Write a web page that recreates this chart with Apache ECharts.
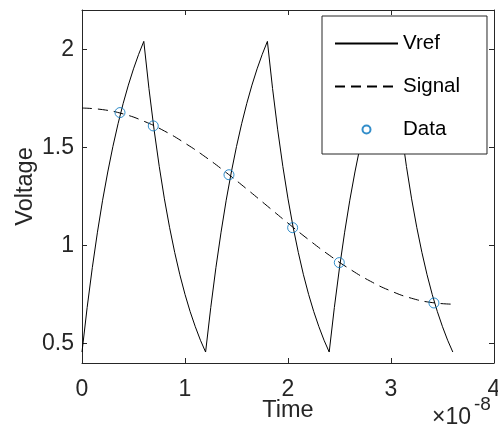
<!DOCTYPE html>
<html>
<head>
<meta charset="utf-8">
<script src="https://cdn.jsdelivr.net/npm/echarts@6/dist/echarts.min.js"></script>
<style>html,body{margin:0;padding:0;background:#fff}#c{width:498px;height:432px}</style>
</head>
<body>
<div id="c"></div>
<script>
// Vref (sawtooth RC charge/discharge)
var vrefX = [0,0.05,0.1,0.15,0.2,0.25,0.3,0.35,0.4,0.45,0.5,0.55,0.6,0.65,0.7,0.75,0.8,0.85,0.9,0.95,1.0,1.05,1.1,1.15,1.2,
  1.25,1.3,1.35,1.4,1.45,1.5,1.55,1.6,1.65,1.7,1.75,1.8,1.85,1.9,1.95,2.0,2.05,2.1,2.15,2.2,2.25,2.3,2.35,2.4,
  2.45,2.5,2.55,2.6,2.65,2.7,2.75,2.8,2.85,2.9,2.95,3.0,3.05,3.1,3.15,3.2,3.25,3.3,3.35,3.4,3.45,3.5,3.55,3.6];
var vrefY = [0.456,0.683,0.886,1.067,1.230,1.374,1.504,1.620,1.724,1.817,1.900,1.974,2.040,1.800,1.589,1.402,1.237,1.092,0.964,0.850,0.750,0.662,0.585,0.516,0.456,
  0.683,0.886,1.067,1.230,1.374,1.504,1.620,1.724,1.817,1.900,1.974,2.040,1.800,1.589,1.402,1.237,1.092,0.964,0.850,0.750,0.662,0.585,0.516,0.456,
  0.683,0.886,1.067,1.230,1.374,1.504,1.620,1.724,1.817,1.900,1.974,2.040,1.800,1.589,1.402,1.237,1.092,0.964,0.850,0.750,0.662,0.585,0.516,0.456];
// Signal (dashed)
var signalX = [0,0.2,0.4,0.6,0.8,1.0,1.2,1.4,1.6,1.8,2.0,2.2,2.4,2.6,2.8,3.0,3.2,3.4,3.6];
var signalY = [1.700,1.692,1.670,1.633,1.583,1.521,1.450,1.371,1.287,1.200,1.113,1.029,0.950,0.879,0.817,0.767,0.730,0.708,0.700];
// Data markers
var dataX = [0.369,0.692,1.427,2.045,2.498,3.417];
var dataY = [1.677,1.609,1.360,1.090,0.912,0.706];
// Axis ticks
var xTicks = [0,1,2,3,4];
var yTicks = [0.5,1,1.5,2];

function pairs(xs, ys){ return xs.map(function(x,i){ return [x, ys[i]]; }); }

var FONT = 'Liberation Sans, Arial, sans-serif';
var AX = '#262626';
var TICKFS = 23, LABELFS = 23.5, LEGFS = 20.5;
var chart = echarts.init(document.getElementById('c'), null, {renderer:'canvas'});
var axisCommon = {
  type:'value', min:0, max:4, interval:1,
  axisLine:{show:true, onZero:false, lineStyle:{color:AX, width:1}},
  axisTick:{show:true, inside:true, length:5, lineStyle:{color:AX, width:1}},
  splitLine:{show:false}
};
var noSym = {color:'rgba(0,0,0,0)', borderWidth:0, opacity:0};
chart.setOption({
  animation:false,
  backgroundColor:'#fff',
  grid:{left:82, right:4, top:10, bottom:69, containLabel:false, outerBoundsMode:'none'},
  xAxis:[
    Object.assign({}, axisCommon, {
      position:'bottom',
      axisLabel:{show:true, fontSize:TICKFS, color:AX, fontFamily:FONT, margin:15},
      name:'Time', nameLocation:'middle', nameGap:36, nameMoveOverlap:false,
      nameTextStyle:{fontSize:LABELFS, color:AX, fontFamily:FONT}
    }),
    Object.assign({}, axisCommon, {position:'top', axisLabel:{show:false}})
  ],
  yAxis:[
    {type:'value', min:0.4, max:2.2, position:'left',
     axisLine:{show:true, onZero:false, lineStyle:{color:AX, width:1}},
     axisTick:{show:true, inside:true, length:5, customValues:yTicks, lineStyle:{color:AX, width:1}},
     axisLabel:{show:true, customValues:yTicks, fontSize:TICKFS, color:AX, fontFamily:FONT, margin:8},
     splitLine:{show:false},
     name:'Voltage', nameLocation:'middle', nameGap:44, nameMoveOverlap:false,
     nameTextStyle:{fontSize:LABELFS, color:AX, fontFamily:FONT}},
    {type:'value', min:0.4, max:2.2, position:'right',
     axisLine:{show:true, onZero:false, lineStyle:{color:AX, width:1}},
     axisTick:{show:true, inside:true, length:5, customValues:yTicks, lineStyle:{color:AX, width:1}},
     axisLabel:{show:false}, splitLine:{show:false}}
  ],
  legend:{
    data:[{name:'Vref', itemStyle:noSym},{name:'Signal', itemStyle:noSym},{name:'Data'}],
    orient:'vertical', left:322, top:16,
    itemWidth:63, itemHeight:8, itemGap:22,
    padding:[17,27,14,12],
    backgroundColor:'#fff', borderColor:AX, borderWidth:1, borderRadius:0,
    textStyle:{fontSize:LEGFS, lineHeight:20, color:'#000', fontFamily:FONT},
    selectedMode:false, z:10
  },
  series:[
    {name:'Vref', type:'line', data:pairs(vrefX, vrefY), symbol:'none',
     lineStyle:{color:'#000', width:1}, itemStyle:{color:'#000'}, z:2},
    {name:'Signal', type:'line', data:pairs(signalX, signalY), symbol:'none', smooth:true,
     lineStyle:{color:'#000', width:1, type:[10,6]}, itemStyle:{color:'#000'}, z:2},
    {name:'Data', type:'scatter', data:pairs(dataX, dataY), symbol:'circle', symbolSize:10,
     itemStyle:{color:'none', borderColor:'#0072BD', borderWidth:1}, z:3}
  ],
  graphic:[
    {type:'text', left:432, top:406, style:{text:'\u00d710', fontSize:23, fill:AX, fontFamily:FONT}},
    {type:'text', left:474, top:395, style:{text:'-8', fontSize:19, fill:AX, fontFamily:FONT}}
  ]
});
</script>
</body>
</html>
